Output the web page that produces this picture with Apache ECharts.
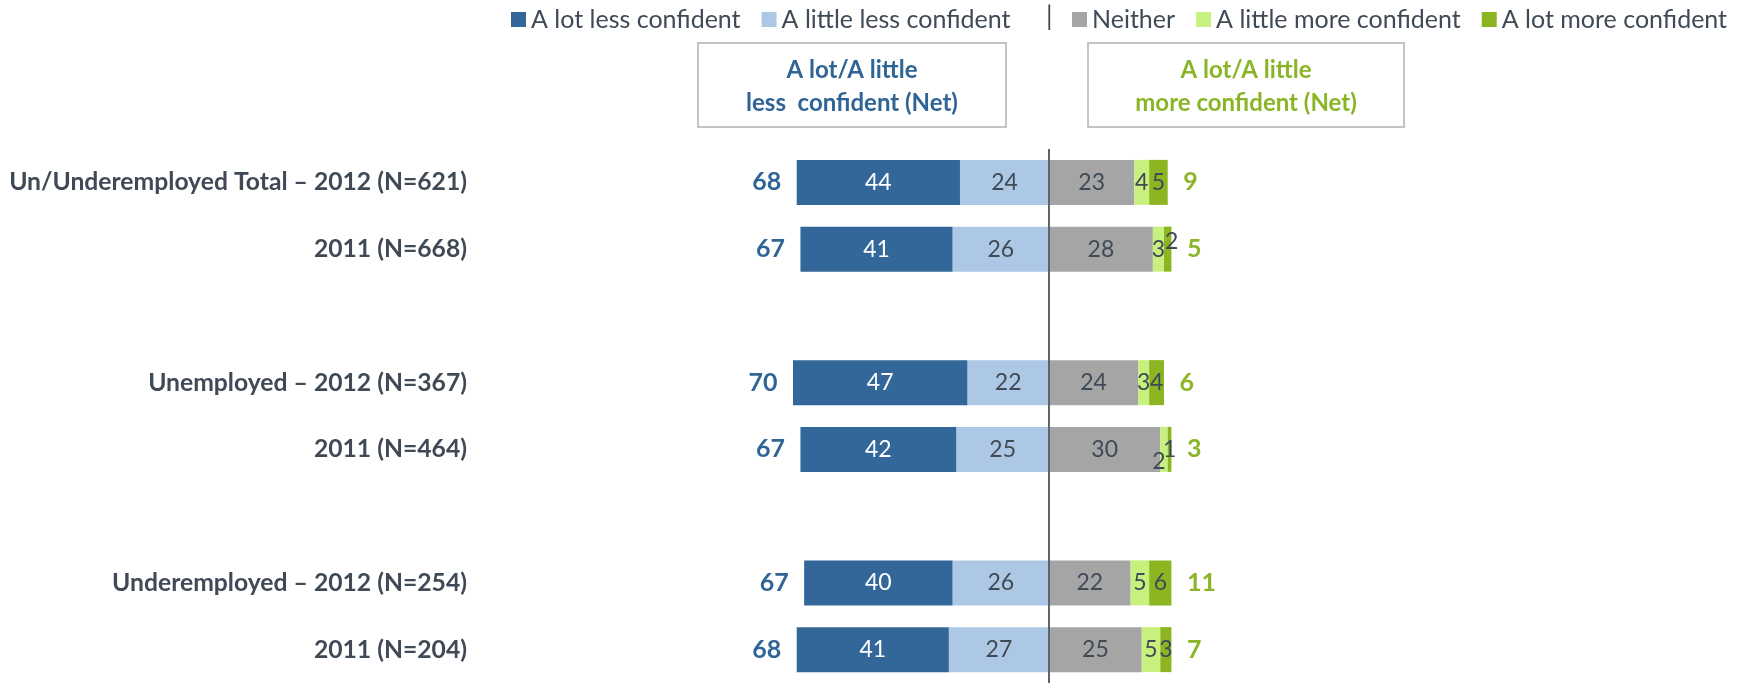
<!DOCTYPE html>
<html>
<head>
<meta charset="utf-8">
<title>Confidence</title>
<script src="https://cdn.jsdelivr.net/npm/echarts/dist/echarts.min.js"></script>
<style>
  html, body { margin: 0; padding: 0; background: #fff; }
  #main { width: 1752px; height: 683px; }
</style>
</head>
<body>
<div id="main"></div>
<script>
var rows = ['Un/Underemployed Total \u2013 2012 (N=621)', '2011 (N=668)',
    'Unemployed \u2013 2012 (N=367)', '2011 (N=464)',
    'Underemployed \u2013 2012 (N=254)', '2011 (N=204)'];
var lotLess = [44, 41, 47, 42, 40, 41];
var littleLess = [24, 26, 22, 25, 26, 27];
var neither = [23, 28, 24, 30, 22, 25];
var littleMore = [4, 3, 3, 2, 5, 5];
var lotMore = [5, 2, 4, 1, 6, 3];
var netLess = [68, 67, 70, 67, 67, 68];
var netMore = [9, 5, 6, 3, 11, 7];

var FONT = 'Lato';
var TEXT = '#3F4A56';
var BLUE = '#2F6496';
var GREEN = '#8AB526';

// blank row after every pair
function gapIndex(i) {
    return i + Math.floor(i / 2);
}
function withGaps(arr, blank) {
    var out = [];
    for (var i = 0; i < arr.length; i++) {
        if (i > 0 && i % 2 == 0) out.push(blank);
        out.push(arr[i]);
    }
    return out;
}

var cats = withGaps(rows, '');

function barSeries(name, values, sign, color, labelColor, nudges) {
    var data = withGaps(values.map(function (v) { return sign * v; }), '-');
    if (nudges) {
        Object.keys(nudges).forEach(function (k) {
            var idx = gapIndex(parseInt(k));
            data[idx] = { value: data[idx], label: { offset: nudges[k] } };
        });
    }
    return {
        name: name,
        type: 'bar',
        stack: 'total',
        barWidth: 45,
        itemStyle: { color: color },
        label: {
            show: true,
            position: 'inside',
            color: labelColor,
            fontFamily: FONT,
            fontSize: 23,
            formatter: function (p) { return Math.abs(p.value); }
        },
        data: data
    };
}

function netSeries(values, xs, side, color) {
    var data = [];
    for (var i = 0; i < values.length; i++) {
        data.push([xs[i], gapIndex(i), values[i]]);
    }
    return {
        type: 'scatter',
        symbolSize: 1,
        itemStyle: { color: 'rgba(0,0,0,0)', opacity: 1 },
        silent: true,
        label: {
            show: true,
            position: side,
            distance: 15,
            color: color,
            fontFamily: FONT,
            fontSize: 25,
            fontWeight: 'bold',
            formatter: function (p) { return p.value[2]; }
        },
        data: data
    };
}

var leftEnds = lotLess.map(function (v, i) { return -(v + littleLess[i]); });
var rightEnds = neither.map(function (v, i) { return v + littleMore[i] + lotMore[i]; });

var neitherSeries = barSeries('Neither', neither, 1, '#A5A5A5', TEXT);
neitherSeries.markLine = {
    silent: true,
    symbol: 'none',
    label: { show: false },
    lineStyle: { color: '#5B6470', width: 2, type: 'solid' },
    data: [{ xAxis: 0 }]
};

var legendText = { fontFamily: FONT, fontSize: 25, color: TEXT };

var option = {
    animation: false,
    legend: [
        {
            data: ['A lot less confident', 'A little less confident'],
            left: 506, top: 2,
            itemWidth: 15, itemHeight: 15, itemGap: 21,
            icon: 'rect',
            textStyle: legendText
        },
        {
            data: ['Neither', 'A little more confident', 'A lot more confident'],
            left: 1067, top: 2,
            itemWidth: 15, itemHeight: 15, itemGap: 21,
            icon: 'rect',
            textStyle: legendText
        }
    ],
    grid: { left: 678, width: 742, top: 149, height: 536 },
    xAxis: { type: 'value', min: -100, max: 100, show: false },
    yAxis: {
        type: 'category',
        data: cats,
        inverse: true,
        axisLine: { show: false, onZero: false },
        axisTick: { show: false },
        axisLabel: {
            margin: 211,
            color: TEXT,
            fontFamily: FONT,
            fontSize: 24.7,
            fontWeight: 'bold'
        }
    },
    graphic: [
        {
            type: 'text', left: 1046, top: 4,
            style: { text: '|', fill: TEXT, font: '26px Lato' }
        },
        {
            type: 'rect', shape: { x: 698, y: 43, width: 308, height: 84 },
            style: { fill: '#fff', stroke: '#C4C4C4', lineWidth: 2 }
        },
        {
            type: 'text', x: 852, y: 87,
            style: {
                text: 'A lot/A little\nless  confident (Net)',
                fill: BLUE, font: 'bold 24px Lato', lineHeight: 33,
                align: 'center', verticalAlign: 'middle'
            }
        },
        {
            type: 'rect', shape: { x: 1088, y: 43, width: 316, height: 84 },
            style: { fill: '#fff', stroke: '#C4C4C4', lineWidth: 2 }
        },
        {
            type: 'text', x: 1246, y: 87,
            style: {
                text: 'A lot/A little\nmore confident (Net)',
                fill: GREEN, font: 'bold 24px Lato', lineHeight: 33,
                align: 'center', verticalAlign: 'middle'
            }
        }
    ],
    series: [
        barSeries('A little less confident', littleLess, -1, '#ADC8E4', TEXT),
        barSeries('A lot less confident', lotLess, -1, '#336699', '#ffffff'),
        neitherSeries,
        barSeries('A little more confident', littleMore, 1, '#C8F07E', TEXT, { 3: [-5, 12] }),
        barSeries('A lot more confident', lotMore, 1, '#8CB521', TEXT, { 1: [4, -8] }),
        netSeries(netLess, leftEnds, 'left', BLUE),
        netSeries(netMore, rightEnds, 'right', GREEN)
    ]
};

var chart = echarts.init(document.getElementById('main'));
chart.setOption(option);
</script>
</body>
</html>
